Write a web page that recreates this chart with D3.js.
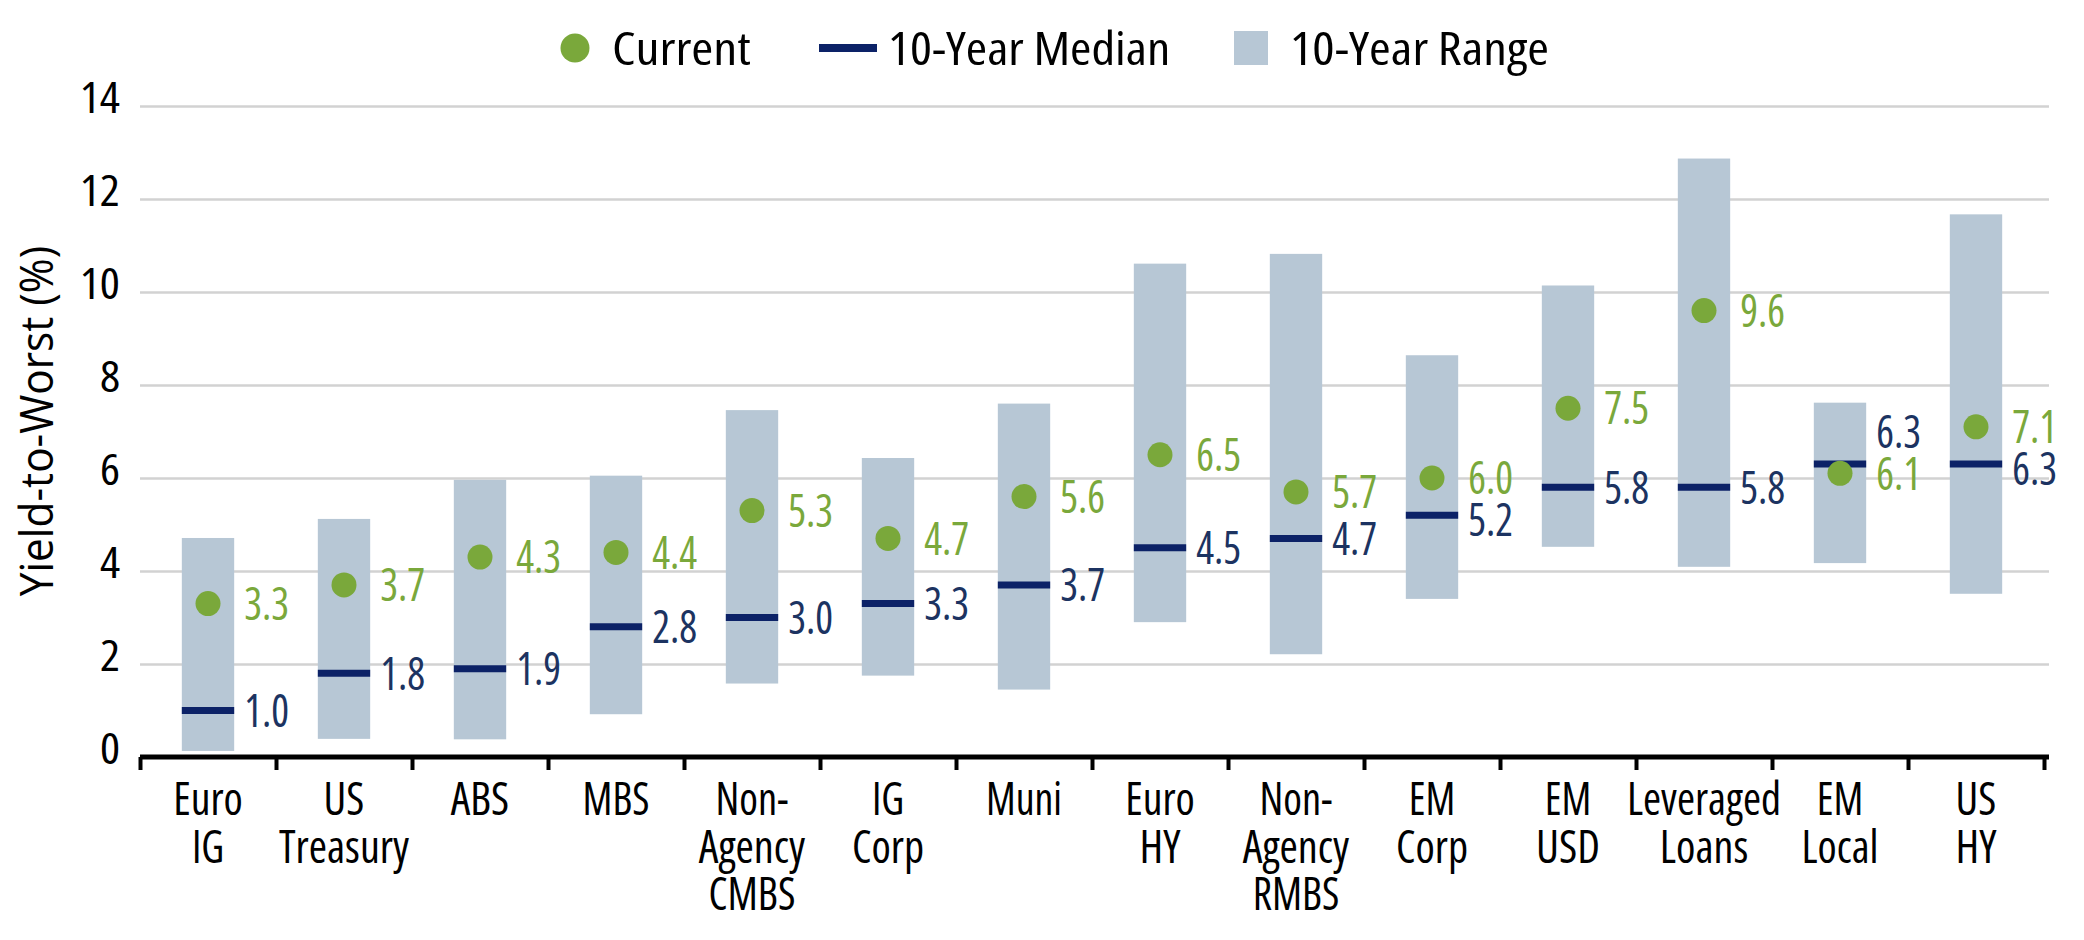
<!DOCTYPE html>
<html>
<head>
<meta charset="utf-8">
<script src="https://cdn.jsdelivr.net/npm/d3@7"></script>
<style>
  html, body { margin: 0; padding: 0; background: #fff; }
  svg { display: block; }
  text { font-family: "Open Sans", "Noto Sans", sans-serif; }
</style>
</head>
<body>
<svg id="chart"></svg>
<script>
// sectors along the x axis (\n = line break in the label)
const categories = ["Euro\nIG", "US\nTreasury", "ABS", "MBS", "Non-\nAgency\nCMBS", "IG\nCorp", "Muni",
  "Euro\nHY", "Non-\nAgency\nRMBS", "EM\nCorp", "EM\nUSD", "Leveraged\nLoans", "EM\nLocal", "US\nHY"];

// yield-to-worst, %
const current   = [3.3, 3.7, 4.3, 4.4, 5.3, 4.7, 5.6, 6.5, 5.7, 6.0, 7.5, 9.6, 6.1, 7.1];
const median    = [1.0, 1.8, 1.9, 2.8, 3.0, 3.3, 3.7, 4.5, 4.7, 5.2, 5.8, 5.8, 6.3, 6.3];
const rangeLow  = [0.13, 0.39, 0.38, 0.92, 1.58, 1.75, 1.45, 2.9, 2.21, 3.4, 4.52, 4.09, 4.17, 3.51];
const rangeHigh = [4.71, 5.12, 5.96, 6.05, 7.46, 6.43, 7.6, 10.61, 10.82, 8.64, 10.14, 12.87, 7.62, 11.67];

const yTicks = [0, 2, 4, 6, 8, 10, 12, 14];
const legendItems = ["Current", "10-Year Median", "10-Year Range"];

const W = 2084, H = 940;
const margin = {top: 106, right: 40, bottom: 183, left: 140};
const green = "#7aa83b", navy = "#0c2267", navyText = "#1c3361", rangeFill = "#b7c7d5";

// the source font is narrower than Open Sans: take whichever Open Sans width
// (normal or condensed) is closer to f times the normal width, then fit with textLength
function narrow(sel, f) {
  sel.each(function() {
    const full = this.getComputedTextLength();
    const target = full * f;
    this.style.fontStretch = "condensed";
    const cond = this.getComputedTextLength();
    if (Math.abs(full - target) < Math.abs(cond - target)) this.style.fontStretch = "normal";
    const now = this.getComputedTextLength();
    if (Math.abs(now - target) > target * 0.01) {
      this.setAttribute("textLength", target.toFixed(1));
      this.setAttribute("lengthAdjust", "spacingAndGlyphs");
    }
  });
}

const svg = d3.select("#chart").attr("width", W).attr("height", H);

const x = d3.scaleBand()
  .domain(categories)
  .range([margin.left, W - margin.right])
  .padding(0);
const xEdge = d3.scaleLinear()
  .domain([0, categories.length])
  .range([margin.left, W - margin.right]);
const y = d3.scaleLinear()
  .domain([0, 14])
  .range([H - margin.bottom, margin.top]);

const barW = x.bandwidth() * 0.385;
const rows = categories.map((c, i) => ({
  cat: c, cur: current[i], med: median[i], lo: rangeLow[i], hi: rangeHigh[i]
}));

// gridlines
svg.append("g")
  .attr("transform", `translate(${margin.left},0)`)
  .call(d3.axisLeft(y).tickValues(yTicks.slice(1)).tickSize(-(W - margin.right - margin.left + 5)).tickFormat(""))
  .call(g => g.select(".domain").remove())
  .selectAll("line").attr("stroke", "#d2d2d2").attr("stroke-width", 2.5);

// y tick labels (sit a little above their gridline, as in the source)
const yLab = svg.append("g")
  .attr("transform", `translate(${margin.left},0)`)
  .call(d3.axisLeft(y).tickValues(yTicks).tickSize(0))
  .call(g => g.select(".domain").remove())
  .selectAll("text")
  .attr("x", -20)
  .attr("dy", "0.36em")
  .attr("y", -9)
  .attr("font-family", null)
  .attr("font-size", 44)
  .attr("fill", "#000");
narrow(yLab, 0.8);

// y title
const yTitle = svg.append("text")
  .attr("transform", `translate(53,421) rotate(-90)`)
  .attr("text-anchor", "middle")
  .attr("font-size", 46)
  .text("Yield-to-Worst (%)");
narrow(yTitle, 0.92);

// range bars
svg.append("g").selectAll("rect")
  .data(rows)
  .join("rect")
  .attr("x", d => x(d.cat) + (x.bandwidth() - barW) / 2)
  .attr("width", barW)
  .attr("y", d => y(d.hi))
  .attr("height", d => y(d.lo) - y(d.hi))
  .attr("fill", rangeFill);

// medians
svg.append("g").selectAll("line")
  .data(rows)
  .join("line")
  .attr("x1", d => x(d.cat) + (x.bandwidth() - barW) / 2)
  .attr("x2", d => x(d.cat) + (x.bandwidth() + barW) / 2)
  .attr("y1", d => y(d.med))
  .attr("y2", d => y(d.med))
  .attr("stroke", navy)
  .attr("stroke-width", 7);

// current dots
svg.append("g").selectAll("circle")
  .data(rows)
  .join("circle")
  .attr("cx", d => x(d.cat) + x.bandwidth() / 2)
  .attr("cy", d => y(d.cur))
  .attr("r", 12.5)
  .attr("fill", green);

// value labels; median label steps aside when it would touch the current label
const minGap = 42;
rows.forEach(d => {
  d.curLY = y(d.cur);
  d.medLY = y(d.med);
  const diff = d.medLY - d.curLY;
  if (Math.abs(diff) < minGap) d.medLY = d.curLY + (diff < 0 ? -minGap : minGap);
});
const labelX = d => x(d.cat) + (x.bandwidth() + barW) / 2 + 10;

const curLab = svg.append("g").selectAll("text")
  .data(rows)
  .join("text")
  .attr("x", labelX)
  .attr("y", d => d.curLY)
  .attr("dy", "0.36em")
  .attr("font-size", 45)
  .attr("fill", green)
  .text(d => d3.format(".1f")(d.cur));
narrow(curLab, 0.71);

const medLab = svg.append("g").selectAll("text")
  .data(rows)
  .join("text")
  .attr("x", labelX)
  .attr("y", d => d.medLY)
  .attr("dy", "0.36em")
  .attr("font-size", 45)
  .attr("fill", navyText)
  .text(d => d3.format(".1f")(d.med));
narrow(medLab, 0.71);

// x axis: line with ticks at category boundaries
const xAxisG = svg.append("g")
  .attr("transform", `translate(0,${y(0)})`)
  .call(d3.axisBottom(xEdge).tickValues(d3.range(categories.length + 1)).tickFormat("").tickSizeInner(13).tickSizeOuter(0));
xAxisG.select(".domain")
  .attr("d", `M${margin.left},0H${W - margin.right + 5}`)
  .attr("stroke", "#000").attr("stroke-width", 5);
xAxisG.selectAll(".tick line").attr("stroke", "#000").attr("stroke-width", 4);

// category labels, one text per line
const catLab = svg.append("g").selectAll("text")
  .data(categories.flatMap(c => c.split("\n").map((t, i) => ({t, i, cx: x(c) + x.bandwidth() / 2}))))
  .join("text")
  .attr("text-anchor", "middle")
  .attr("font-size", 45)
  .attr("x", s => s.cx)
  .attr("y", s => y(0) + 58 + s.i * 47.5)
  .text(s => s.t);
narrow(catLab, 0.71);

// legend
const lg = svg.append("g").attr("font-size", 46);
const legY = 48;
const legText = (xPos, s) => lg.append("text")
  .attr("x", xPos)
  .attr("y", legY)
  .attr("dy", "0.36em")
  .text(s);
lg.append("circle").attr("cx", 575).attr("cy", legY).attr("r", 14.5).attr("fill", green);
legText(612, legendItems[0]);
lg.append("line").attr("x1", 819).attr("x2", 877).attr("y1", legY).attr("y2", legY)
  .attr("stroke", navy).attr("stroke-width", 8);
legText(888, legendItems[1]);
lg.append("rect").attr("x", 1234).attr("y", legY - 17).attr("width", 34).attr("height", 34).attr("fill", rangeFill);
legText(1290, legendItems[2]);
narrow(lg.selectAll("text"), 0.84);
</script>
</body>
</html>
